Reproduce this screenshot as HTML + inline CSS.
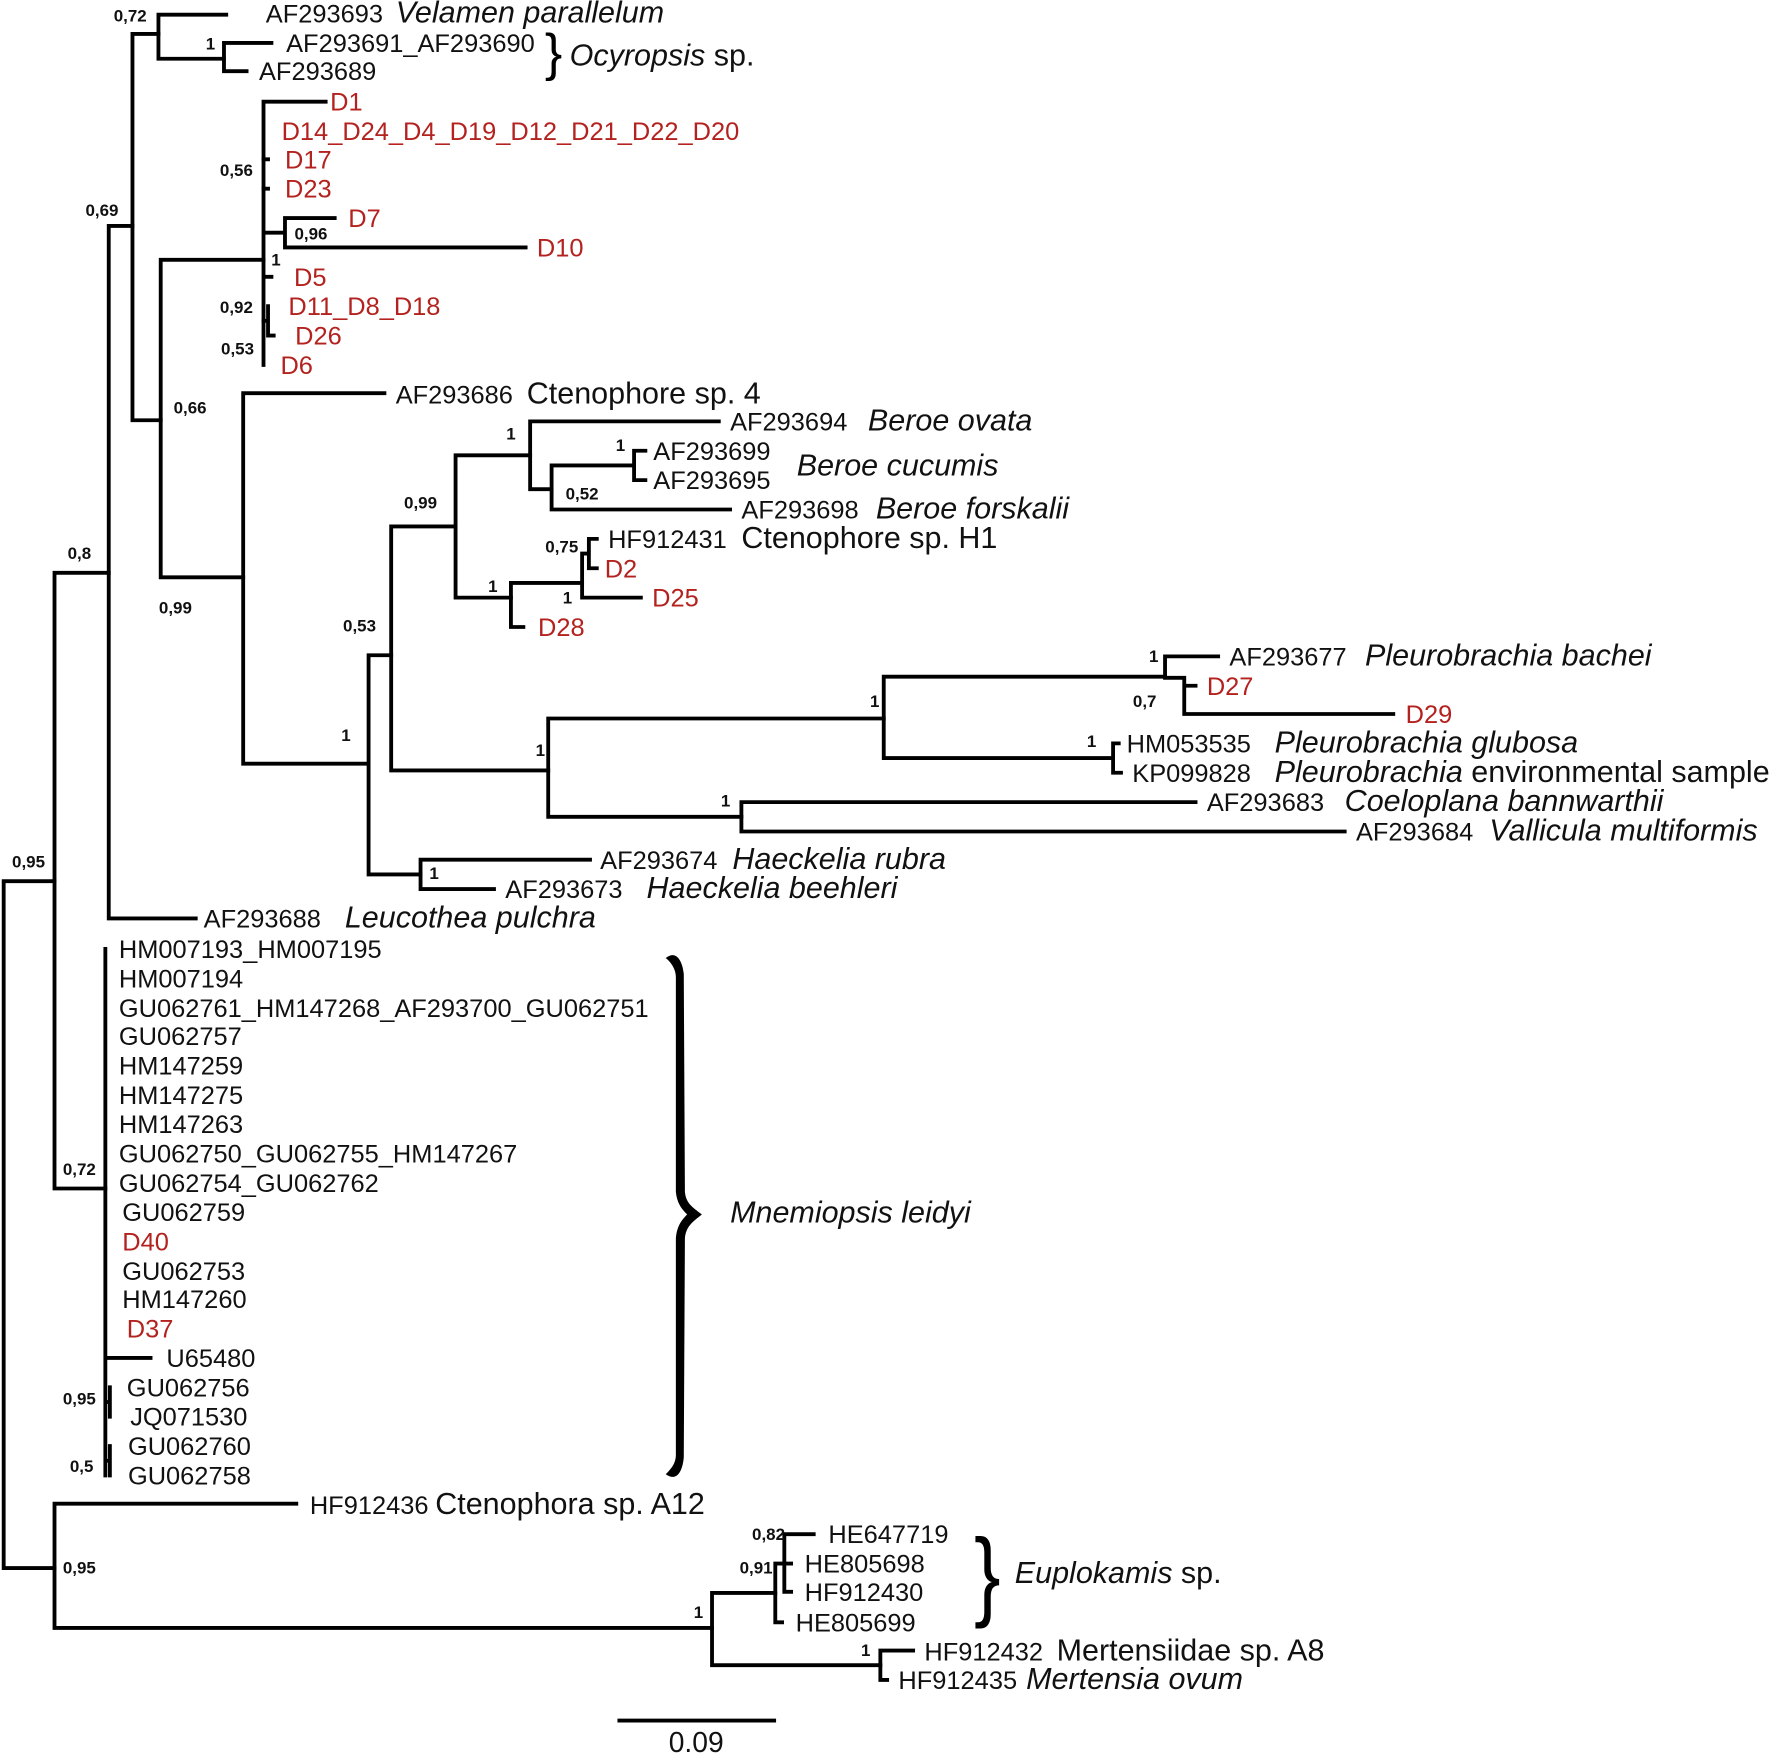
<!DOCTYPE html>
<html><head><meta charset="utf-8"><style>
html,body{margin:0;padding:0;background:#fff}
svg{display:block}
text{font-family:"Liberation Sans",sans-serif}
.l{font-size:22.5px;fill:#111}
.r{font-size:22.5px;fill:#b3221e}
.i{font-style:italic;font-size:27px}
.b{font-size:27px}
.s{font-size:15px;font-weight:bold;fill:#111;text-anchor:middle}
</style></head><body>
<svg width="1772" height="1759" viewBox="0 0 1568 1557" xmlns="http://www.w3.org/2000/svg">
<g stroke="#000" stroke-width="3.4" fill="none" stroke-linecap="square">
<path d="M3 780V1388M3 780H48M3 1388H48"/>
<path d="M48 507V1052M48 507H96M48 1052H93"/>
<path d="M48 1331V1441M48 1331H262M48 1441H630"/>
<path d="M630 1410V1474M630 1410H686M630 1474H779"/>
<path d="M686 1384V1436M686 1436H692M686 1384H694M694 1358V1409M694 1358H720M694 1384H700M694 1409H700"/>
<path d="M779 1461V1487M779 1461H808M779 1487H785"/>
<path d="M96 200V813M96 200H117M96 813H173"/>
<path d="M117 30V372M117 30H140M117 372H142"/>
<path d="M140 13V52M140 13H200M140 52H198"/>
<path d="M198 38V63M198 38H240M198 63H218"/>
<path d="M142 230V511M142 230H233M142 511H215"/>
<path d="M233 90V323M233 90H288M233 206H252M252 193V219M252 193H296M252 219H465M233 245H240"/>
<path d="M233 141H237M233 167H237M237 271V297M237 297H242M237 284H233"/>
<path d="M215 348V676M215 348H340M215 676H326"/>
<path d="M326 580V774M326 580H346M326 774H372"/>
<path d="M346 466V682M346 466H403M346 682H485"/>
<path d="M403 403V529M403 403H469M403 529H452"/>
<path d="M469 373V433M469 373H636M469 433H488"/>
<path d="M488 412V451M488 412H561M488 451H646"/>
<path d="M561 399V425M561 399H571M561 425H571"/>
<path d="M452 516V555M452 516H515M452 555H463"/>
<path d="M515 490V529M515 490H521M515 529H567M521 477V503M521 477H528M521 503H528"/>
<path d="M485 636V723M485 636H782M485 723H656"/>
<path d="M782 599V671M782 599H1031M782 671H985"/>
<path d="M1031 581V600M1031 581H1078M1031 600H1048M1048 600V632M1048 607H1058M1048 632H1233"/>
<path d="M985 658V684M985 658H990M985 684H992"/>
<path d="M656 710V736M656 710H1058M656 736H1190"/>
<path d="M372 761V787M372 761H522M372 787H437"/>
<path d="M93 840V1306M93 1202H133M93 1241H97M97 1228V1254M93 1293H97M97 1280V1306"/>
<path d="M548 1523H685"/>
</g>
<text x="482" y="62" font-size="46" style="font-family:'Liberation Sans'">}</text>
<text x="862" y="1418" font-size="70" style="font-family:'Liberation Sans'" transform="translate(862 1397) scale(1 1.25) translate(-862 -1397)">}</text>
<path d="M589 848 C599 840 604 852 605 862 L606 1055 C607 1065 612 1068 621 1075 C612 1082 607 1086 606 1096 L605 1290 C604 1302 599 1312 589 1305 C594 1300 598 1295 598 1288 L598 1096 C599 1085 603 1080 608 1075 C603 1070 599 1065 598 1055 L598 865 C598 858 594 852 589 848Z" fill="#000"/>
<g class="l">
<text x="235" y="20">AF293693 <tspan class="i" x="350">Velamen parallelum</tspan></text>
<text x="253" y="46">AF293691_AF293690</text>
<text x="229" y="71">AF293689</text>
<text x="504" y="58" class="i">Ocyropsis<tspan style="font-style:normal"> sp.</tspan></text>
<text x="350" y="357">AF293686 <tspan class="b" x="466">Ctenophore sp. 4</tspan></text>
<text x="646" y="381">AF293694 <tspan class="i" x="768">Beroe ovata</tspan></text>
<text x="578" y="407">AF293699</text>
<text x="705" y="421" class="i">Beroe cucumis</text>
<text x="578" y="433">AF293695</text>
<text x="656" y="459">AF293698 <tspan class="i" x="775">Beroe forskalii</tspan></text>
<text x="538" y="485">HF912431 <tspan class="b" x="656">Ctenophore sp. H1</tspan></text>
<text x="1088" y="589">AF293677 <tspan class="i" x="1208">Pleurobrachia bachei</tspan></text>
<text x="997" y="666">HM053535 <tspan class="i" x="1128">Pleurobrachia glubosa</tspan></text>
<text x="1002" y="692">KP099828 <tspan class="i" x="1128">Pleurobrachia</tspan><tspan class="b"> environmental sample</tspan></text>
<text x="1068" y="718">AF293683 <tspan class="i" x="1190">Coeloplana bannwarthii</tspan></text>
<text x="1200" y="744">AF293684 <tspan class="i" x="1318">Vallicula multiformis</tspan></text>
<text x="531" y="769">AF293674 <tspan class="i" x="648">Haeckelia rubra</tspan></text>
<text x="447" y="795">AF293673 <tspan class="i" x="572">Haeckelia beehleri</tspan></text>
<text x="180" y="821">AF293688 <tspan class="i" x="305">Leucothea pulchra</tspan></text>
<text x="105" y="848">HM007193_HM007195</text>
<text x="105" y="874">HM007194</text>
<text x="105" y="900">GU062761_HM147268_AF293700_GU062751</text>
<text x="105" y="925">GU062757</text>
<text x="105" y="951">HM147259</text>
<text x="105" y="977">HM147275</text>
<text x="105" y="1003">HM147263</text>
<text x="105" y="1029">GU062750_GU062755_HM147267</text>
<text x="105" y="1055">GU062754_GU062762</text>
<text x="108" y="1081">GU062759</text>
<text x="108" y="1133">GU062753</text>
<text x="108" y="1158">HM147260</text>
<text x="147" y="1210">U65480</text>
<text x="112" y="1236">GU062756</text>
<text x="115" y="1262">JQ071530</text>
<text x="113" y="1288">GU062760</text>
<text x="113" y="1314">GU062758</text>
<text x="646" y="1082" class="i">Mnemiopsis leidyi</text>
<text x="274" y="1340">HF912436 <tspan class="b" x="385">Ctenophora sp. A12</tspan></text>
<text x="733" y="1366">HE647719</text>
<text x="712" y="1392">HE805698</text>
<text x="712" y="1417">HF912430</text>
<text x="704" y="1444">HE805699</text>
<text x="898" y="1401" class="i">Euplokamis<tspan style="font-style:normal"> sp.</tspan></text>
<text x="818" y="1470">HF912432 <tspan class="b" x="935">Mertensiidae sp. A8</tspan></text>
<text x="795" y="1495">HF912435 <tspan class="i" x="908">Mertensia ovum</tspan></text>
<text x="616" y="1551" font-size="25" text-anchor="middle">0.09</text>
</g>
<g class="r">
<text x="292" y="98">D1</text>
<text x="249" y="124">D14_D24_D4_D19_D12_D21_D22_D20</text>
<text x="252" y="149">D17</text>
<text x="252" y="175">D23</text>
<text x="308" y="201">D7</text>
<text x="475" y="227">D10</text>
<text x="260" y="253">D5</text>
<text x="255" y="279">D11_D8_D18</text>
<text x="261" y="305">D26</text>
<text x="248" y="331">D6</text>
<text x="535" y="511">D2</text>
<text x="577" y="537">D25</text>
<text x="476" y="563">D28</text>
<text x="1068" y="615">D27</text>
<text x="1244" y="640">D29</text>
<text x="108" y="1107">D40</text>
<text x="112" y="1184">D37</text>
</g>
<g class="s">
<text x="115" y="19">0,72</text><text x="186" y="44">1</text><text x="209" y="156">0,56</text>
<text x="90" y="191">0,69</text><text x="275" y="212">0,96</text><text x="244" y="235">1</text>
<text x="209" y="277">0,92</text><text x="210" y="314">0,53</text><text x="168" y="366">0,66</text>
<text x="70" y="495">0,8</text><text x="155" y="543">0,99</text><text x="452" y="389">1</text>
<text x="549" y="399">1</text><text x="515" y="442">0,52</text><text x="372" y="450">0,99</text>
<text x="497" y="489">0,75</text><text x="436" y="524">1</text><text x="502" y="534">1</text>
<text x="318" y="559">0,53</text><text x="306" y="656">1</text><text x="774" y="626">1</text>
<text x="1021" y="586">1</text><text x="1013" y="626">0,7</text><text x="966" y="661">1</text>
<text x="478" y="669">1</text><text x="642" y="714">1</text><text x="384" y="778">1</text>
<text x="25" y="768">0,95</text><text x="70" y="1040">0,72</text><text x="70" y="1243">0,95</text>
<text x="72" y="1303">0,5</text><text x="680" y="1363">0,82</text><text x="669" y="1393">0,91</text>
<text x="70" y="1393">0,95</text><text x="618" y="1432">1</text><text x="766" y="1466">1</text>
</g>
</svg>
</body></html>
